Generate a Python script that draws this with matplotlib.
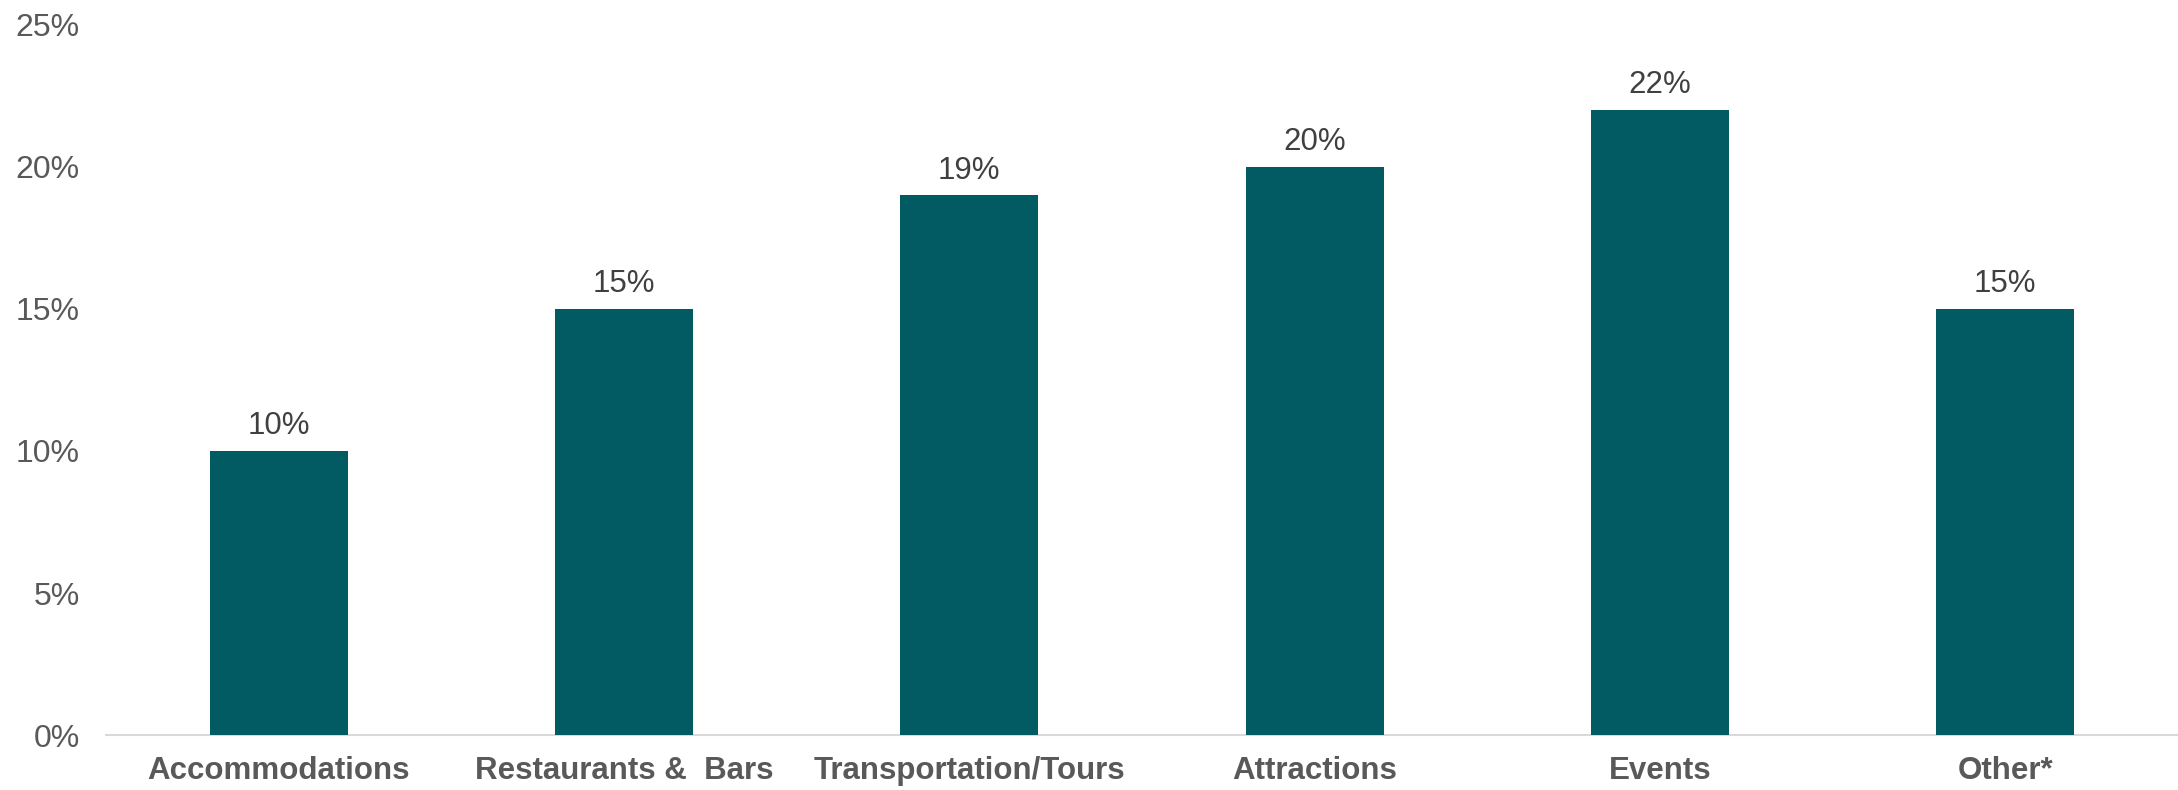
import matplotlib
matplotlib.use("Agg")
import matplotlib.pyplot as plt
from matplotlib.ticker import FuncFormatter, MultipleLocator

categories = ["Accommodations", "Restaurants &  Bars", "Transportation/Tours",
              "Attractions", "Events", "Other*"]
values = [10, 15, 19, 20, 22, 15]
labels = ["10%", "15%", "19%", "20%", "22%", "15%"]

plt.rcParams['font.family'] = ['Liberation Sans', 'DejaVu Sans']

fig = plt.figure(figsize=(21.78, 7.9), dpi=100)
ax = fig.add_axes([0.0487, 0.0696, 0.9513, 0.8988])

x = list(range(len(categories)))
bars = ax.bar(x, values, width=0.40, color="#025A63", zorder=3)
for xi, v, lab in zip(x, values, labels):
    ax.annotate(lab, (xi, v), xytext=(0, 7), textcoords="offset points",
                ha="center", va="bottom", fontsize=22.5, color="#404040")

ax.set_xlim(-0.5, len(categories) - 0.5)
ax.set_ylim(0, 25)
ax.yaxis.set_major_locator(MultipleLocator(5))
ax.yaxis.set_major_formatter(FuncFormatter(lambda v, p: f"{int(v)}%"))
ax.set_xticks(x)
ax.set_xticklabels(categories, fontsize=22.5, fontweight="bold", color="#595959")
ax.tick_params(axis="y", labelsize=23, labelcolor="#595959", length=0, pad=19)
ax.tick_params(axis="x", length=0, pad=15)

for s in ["top", "right", "left"]:
    ax.spines[s].set_visible(False)
ax.spines["bottom"].set_color("#D9D9D9")
ax.spines["bottom"].set_linewidth(1.5)

fig.savefig("out.png", dpi=100)
